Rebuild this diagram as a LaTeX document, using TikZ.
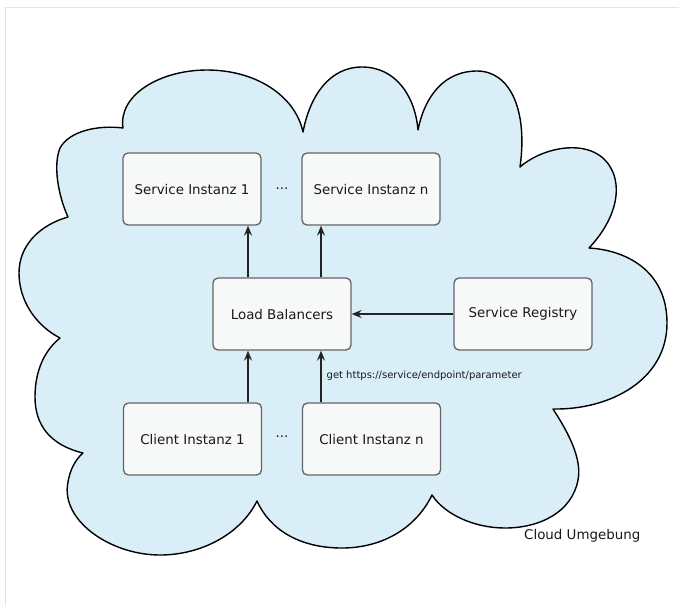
\documentclass[tikz,border=0pt]{standalone}
\usepackage{fontspec}
\setmainfont{DejaVu Sans}
\usetikzlibrary{arrows.meta}
\definecolor{cloudfill}{RGB}{218,238,248}
\definecolor{boxfill}{RGB}{247,248,248}
\definecolor{boxline}{RGB}{100,100,100}
\definecolor{frameline}{RGB}{228,228,228}
\definecolor{arrowline}{RGB}{35,35,35}
\definecolor{txt}{RGB}{25,25,25}
\begin{document}
\begin{tikzpicture}[x=1pt,y=-1pt,
  box/.style={draw=boxline, line width=1.3pt, fill=boxfill, rounded corners=5pt,
    minimum width=138pt, minimum height=72pt, inner sep=0pt, text=txt,
    font=\fontsize{13.4}{16}\selectfont},
  link/.style={draw=arrowline, line width=1.3pt,
    -{Stealth[length=10pt,width=8pt,inset=3.5pt]}},
  plain/.style={inner sep=0pt, text=txt, font=\fontsize{13.4}{16}\selectfont},
  small/.style={inner sep=0pt, text=txt, font=\fontsize{10}{12}\selectfont}]
\useasboundingbox (0,0) rectangle (679,606);
\fill[white] (0,0) rectangle (679,606);
% thin page frame
\draw[frameline, line width=1pt] (5.5,606) -- (5.5,7) -- (679,7);

% cloud outline
\draw[fill=cloudfill, draw=black, line width=1.4pt, line join=round]
  (123,128)
  .. controls (118,95) and (160,70) .. (207,70)
  .. controls (255,70) and (295,95) .. (303,132)
  .. controls (310,95) and (330,67) .. (362,67)
  .. controls (395,67) and (415,95) .. (418,130)
  .. controls (425,95) and (445,71) .. (477,71)
  .. controls (510,71) and (528,110) .. (520,167)
  .. controls (545,145) and (600,135) .. (614,175)
  .. controls (622,200) and (608,228) .. (589,248)
  .. controls (625,250) and (667,270) .. (667,323)
  .. controls (667,380) and (610,410) .. (553,409)
  .. controls (570,435) and (582,460) .. (578,480)
  .. controls (572,512) and (540,528) .. (505,528)
  .. controls (475,528) and (445,515) .. (432,495)
  .. controls (415,530) and (380,548) .. (342,548)
  .. controls (300,548) and (270,530) .. (257,501)
  .. controls (240,535) and (200,555) .. (160,555)
  .. controls (110,555) and (60,520) .. (68,482)
  .. controls (70,470) and (75,460) .. (83,453)
  .. controls (50,445) and (35,425) .. (35,397)
  .. controls (35,370) and (45,350) .. (60,338)
  .. controls (35,325) and (19,300) .. (19,273)
  .. controls (19,245) and (40,225) .. (68,217)
  .. controls (58,195) and (53,165) .. (60,148)
  .. controls (70,130) and (100,125) .. cycle;

% components
\node[box] (si1) at (192,189) {Service Instanz 1};
\node[box] (sin) at (371,189) {Service Instanz n};
\node[box] (lb)  at (282,314) {Load Balancers};
\node[box] (sr)  at (523,314) {Service Registry};
\node[box] (ci1) at (192.5,439) {Client Instanz 1};
\node[box] (cin) at (371.5,439) {Client Instanz n};

\node[plain] (dotsS) at (282,189) {...};
\node[plain] (dotsC) at (282,437) {...};

% connections
\draw[link] ([xshift=-34pt]lb.north) -- ([xshift=-34pt]lb.north |- si1.south);
\draw[link] ([xshift=39pt]lb.north) -- ([xshift=39pt]lb.north |- sin.south);
\draw[link] (sr.west) -- (lb.east);
\draw[link] ([xshift=-34pt]lb.south |- ci1.north) -- ([xshift=-34pt]lb.south);
\draw[link] ([xshift=39pt]lb.south |- cin.north) -- ([xshift=39pt]lb.south)
  node[small, anchor=west, pos=0.5, xshift=5pt, yshift=1pt] (req) {get https://service/endpoint/parameter};

\node[plain, anchor=west] (env) at (524,536) {Cloud Umgebung};
\end{tikzpicture}
\end{document}
